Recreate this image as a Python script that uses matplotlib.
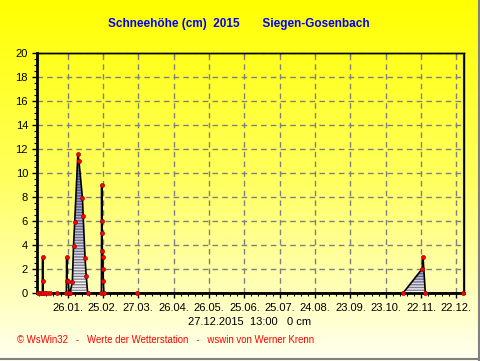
import numpy as np
import matplotlib.pyplot as plt
from matplotlib.patches import Polygon
from matplotlib.colors import LinearSegmentedColormap

# Schneehöhe 2015, Tag im Jahr (1 = 1. Januar) und Höhe in cm
days = [1.0, 2.5, 4.6, 4.8, 4.9, 5.2, 6.8, 8.7, 11.0, 16.7,
        24.9, 25.2, 25.4, 26.6, 27.2, 28.0,
        30.0, 31.0, 32.0, 34.7, 35.6, 38.6, 39.2, 40.8, 41.8, 43.0,
        54.7, 54.9, 55.0, 55.1, 55.5, 55.9, 56.1, 56.3, 56.8, 84.6,
        310.8, 326.9, 327.7, 329.7, 361.7]
snow = [0, 0, 0, 3.0, 1.0, 0, 0, 0, 0, 0,
        0, 3.0, 1.0, 1.0, 0, 0,
        0.9, 3.9, 5.9, 11.6, 11.0, 7.9, 6.4, 2.9, 1.4, 0,
        0, 9.0, 6.0, 5.0, 3.5, 3.0, 2.0, 1.0, 0, 0,
        0, 2.0, 3.0, 0, 0]

tick_days = [26, 56, 86, 116, 146, 176, 206, 236, 266, 296, 326, 356]
tick_labels = ['26.01.', '25.02.', '27.03.', '26.04.', '26.05.', '25.06.',
               '25.07.', '24.08.', '23.09.', '23.10.', '22.11.', '22.12.']

W, H = 481, 361
plt.rcParams['font.family'] = ['Liberation Sans', 'DejaVu Sans']

fig = plt.figure(figsize=(W / 100, H / 100), dpi=100)

# Hintergrund mit Farbverlauf gelb -> hellgelb
bg = fig.add_axes([0, 0, 1, 1], zorder=-10)
bg_cmap = LinearSegmentedColormap.from_list('bg', ['#ffff00', '#ffff60', '#fffff0'])
bg.imshow(np.linspace(0, 1, 256).reshape(-1, 1), cmap=bg_cmap, aspect='auto',
          extent=[0, 1, 0, 1], origin='upper')
bg.set_xlim(0, 1)
bg.set_ylim(0, 1)
bg.axis('off')
bg.axvline(1 - 1.5 / W, color='#808080', lw=1.5)
bg.axhline(2.0 / H, color='#808080', lw=1.5)

ax = fig.add_axes([37 / W, (H - 293) / H, 427 / W, 240 / H])
ax.set_facecolor('none')

fill_cmap = LinearSegmentedColormap.from_list('fill', ['#ffffff', '#7070c4'])


def gradient_fill(ax, x, y):
    verts = [(x[0], 0)] + list(zip(x, y)) + [(x[-1], 0)]
    poly = Polygon(verts, closed=True, facecolor='none', edgecolor='none')
    ax.add_patch(poly)
    img = ax.imshow(np.linspace(0, 1, 100).reshape(-1, 1), cmap=fill_cmap,
                    aspect='auto', extent=[min(x), max(x), 0, max(y)],
                    origin='lower', zorder=2)
    img.set_clip_path(poly)
    ax.add_patch(Polygon(verts, closed=True, facecolor='none', edgecolor='black',
                         hatch='------', lw=0, alpha=0.45, zorder=2.5))


# Flächen zwischen zwei Nullwerten füllen
start = None
for i in range(len(snow)):
    if snow[i] == 0:
        if start is not None and i - start > 1:
            gradient_fill(ax, days[start:i + 1], snow[start:i + 1])
        start = i

ax.plot(days, snow, color='black', lw=1.2, zorder=4)
ax.plot(days, snow, 'o', color='#ff0000', markeredgecolor='#900000',
        markersize=3, mew=0.4, zorder=5, clip_on=False)

ax.set_xlim(0, 362.5)
ax.set_ylim(0, 20)
ax.set_xticks(tick_days, tick_labels)
ax.set_xticks(np.arange(2, 362, 6), minor=True)
ax.set_yticks(np.arange(0, 21, 2))
ax.set_yticks(np.arange(0, 20.1, 0.5), minor=True)
ax.tick_params(axis='both', which='major', labelsize=8, length=3.5, width=1,
               color='black', labelcolor='black')
ax.tick_params(axis='both', which='minor', length=2, width=0.8)
ax.tick_params(axis='x', which='major', pad=4)
ax.tick_params(axis='y', which='major', pad=3)

top = ax.secondary_xaxis('top')
top.set_xticks(tick_days)
top.tick_params(direction='in', length=3, labeltop=False)
top.spines['top'].set_linewidth(1)

ax.grid(True, which='major', color='#808080', linestyle=(0, (4, 3)), lw=1)
ax.spines['left'].set_linewidth(2)
ax.spines['bottom'].set_linewidth(2)
ax.spines['top'].set_linewidth(1)
ax.spines['right'].set_linewidth(1)
ax.axvline(361.5, color='#0000ff', lw=0.8, zorder=3)

fig.text(239 / W, 1 - 24 / H, 'Schneehöhe (cm)  2015       Siegen-Gosenbach',
         color='#0000ff', fontsize=8.5, fontweight='bold', ha='center', va='center')
fig.text(250 / W, 1 - 322 / H, '27.12.2015  13:00   0 cm', color='black',
         fontsize=8, ha='center', va='center')
fig.text(17 / W, 1 - 340 / H,
         '© WsWin32   -   Werte der Wetterstation   -   wswin von Werner Krenn',
         color='#ff0000', fontsize=6.9, ha='left', va='center')

fig.savefig('out.png', dpi=100)
